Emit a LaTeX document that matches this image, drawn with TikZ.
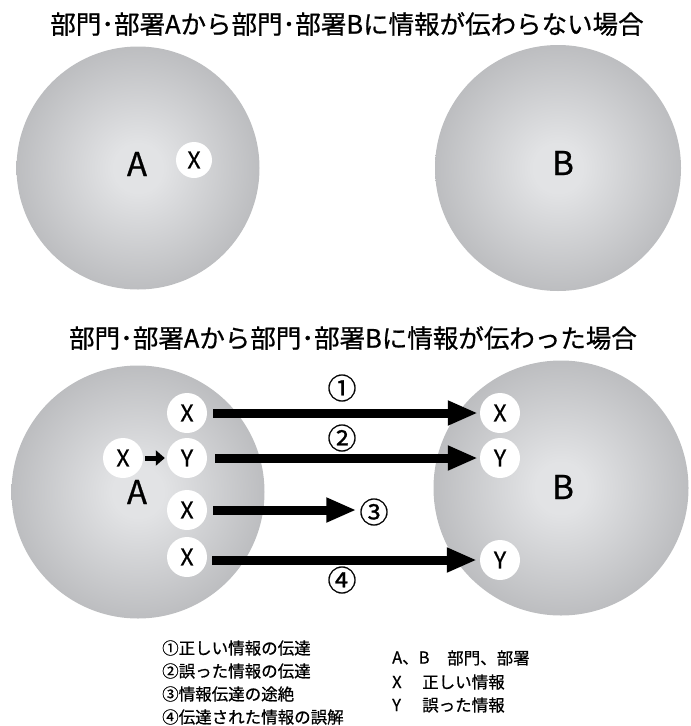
\documentclass[tikz,border=0pt]{standalone}
\usepackage{fontspec}
\setmainfont{Noto Sans CJK JP}[RawFeature={embolden=0.7}]
\usetikzlibrary{arrows.meta}
\definecolor{ballin}{HTML}{E2E3E5}
\definecolor{ballout}{HTML}{A4A5A8}
\pgfdeclareradialshading{ballshade}{\pgfpoint{0bp}{0bp}}{%
  color(0bp)=(ballin); color(5bp)=(ballin); color(38bp)=(ballout); color(50bp)=(ballout)}
\newcommand{\fsz}[1]{\fontsize{#1}{#1}\selectfont}
\begin{document}
\begin{tikzpicture}[x=1pt,y=-1pt,
  ball/.style={circle, shading=ballshade, minimum size=246pt, inner sep=0pt},
  dot/.style={circle, fill=white, minimum size=40pt, inner sep=0pt, font=\fsz{23}},
  big/.style={font=\fsz{33}, inner sep=0pt},
  title/.style={font=\fsz{25.5}, inner sep=0pt},
  num/.style={font=\fsz{29}, inner sep=0pt},
  legend/.style={font=\fsz{16.5}, inner sep=0pt, anchor=west},
  bigarrow/.style={line width=9pt, -{Triangle[length=30pt,width=23pt]}},
  smallarrow/.style={line width=5pt, -{Triangle[length=9pt,width=15pt]}}]
\useasboundingbox (0,0) rectangle (691,726);

% ---- case 1: no information reaches B ----
\node[title] (t1) at (347,24) {部門･部署Aから部門･部署Bに情報が伝わらない場合};
\node[ball, minimum size=243pt] (ua) at (138,168) {};
\node[ball] (ub) at (558,168) {};
\node[big] (ual) at (137,164) {A};
\node[big] (ubl) at (563,163) {B};
\node[dot, minimum size=36pt] (ux) at (194,160) {X};

% ---- case 2: information reaches B ----
\node[title] (t2) at (353,338) {部門･部署Aから部門･部署Bに情報が伝わった場合};
\node[ball, minimum size=253pt] (la) at (138,492) {};
\node[ball, minimum size=255pt] (lb) at (561,488) {};
\node[big] (lal) at (137,492) {A};
\node[big] (lbl) at (563,487) {B};

\node[dot] (ax1) at (187,413) {X};
\node[dot] (ay2) at (187,458) {Y};
\node[dot] (ax0) at (123,458) {X};
\node[dot] (ax3) at (187,510) {X};
\node[dot] (ax4) at (187,557) {X};

\node[dot] (bx1) at (500,413) {X};
\node[dot] (by2) at (500,458) {Y};
\node[dot] (by4) at (500,560) {Y};

\node[num] (n1) at (342,388) {①};
\node[num] (n2) at (342,438) {②};
\node[num] (n3) at (374,512) {③};
\node[num] (n4) at (342,580) {④};

\draw[smallarrow, shorten <=2pt, shorten >=2pt] (ax0) -- (ay2);
\draw[bigarrow, shorten <=6pt, shorten >=2pt] (ax1) -- (bx1);
\draw[bigarrow, shorten <=8pt, shorten >=2pt] (ay2) -- (by2);
\draw[bigarrow, shorten <=6pt, shorten >=3pt] (ax3.east) -- (n3.west |- ax3.east);
\draw[bigarrow, shorten <=5pt, shorten >=3pt] (ax4.east |- by4) -- (by4);

% ---- legend ----
\node[legend] (k1) at (162,648) {①正しい情報の伝達};
\node[legend] (k2) at (162,671) {②誤った情報の伝達};
\node[legend] (k3) at (162,694) {③情報伝達の途絶};
\node[legend] (k4) at (162,717) {④伝達された情報の誤解};

\node[legend] (kab) at (392,658) {A、B};
\node[legend] (kabt) at (447,658) {部門、部署};
\node[legend] (kx) at (392,682) {X};
\node[legend] (kxt) at (422,682) {正しい情報};
\node[legend] (ky) at (392,705) {Y};
\node[legend] (kyt) at (422,705) {誤った情報};
\end{tikzpicture}
\end{document}
